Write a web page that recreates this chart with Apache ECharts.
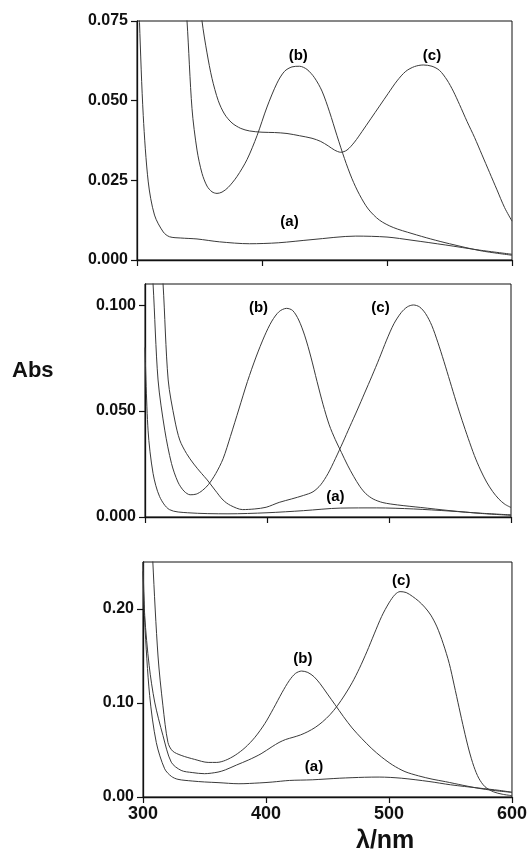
<!DOCTYPE html>
<html>
<head>
<meta charset="utf-8">
<script src="https://cdn.jsdelivr.net/npm/echarts@6/dist/echarts.min.js"></script>
<style>
  html, body { margin: 0; background: #fff; }
  #chart { width: 530px; height: 858px; }
</style>
</head>
<body>
<div id="chart"></div>
<script>
// ---- data (wavelength in nm, absorbance) ----
// top panel
const topAx = [300, 302, 305, 309, 314, 321, 326, 335, 348, 366, 390, 413, 440, 475, 500, 520, 547, 574, 600];
const topAy = [0.10, 0.0745, 0.0453, 0.0245, 0.0141, 0.0088, 0.0073, 0.0069, 0.0066, 0.0057, 0.0051, 0.0054, 0.0064, 0.0075, 0.0072, 0.0062, 0.0047, 0.0031, 0.0018];
const topBx = [330, 336, 340, 344, 348, 352, 356, 360, 364, 368, 373, 380, 388, 396, 404, 412, 418, 424, 430, 436, 442, 448, 454, 460, 466, 472, 478, 485, 494, 505, 520, 535, 550, 575, 600];
const topBy = [0.14, 0.095, 0.075, 0.0475, 0.0345, 0.0272, 0.0232, 0.0214, 0.0209, 0.0213, 0.0228, 0.0262, 0.0315, 0.039, 0.048, 0.0555, 0.0592, 0.0606, 0.0608, 0.0598, 0.0572, 0.053, 0.0465, 0.039, 0.0318, 0.0255, 0.0205, 0.016, 0.0125, 0.0102, 0.0083, 0.0066, 0.0051, 0.0029, 0.0015];
const topCx = [345, 352, 356, 360, 365, 370, 376, 383, 390, 400, 410, 420, 430, 440, 447, 453, 458, 463, 468, 474, 480, 487, 494, 501, 508, 515, 522, 529, 536, 542, 548, 553, 558, 564, 570, 576, 582, 588, 594, 600];
const topCy = [0.10, 0.075, 0.065, 0.057, 0.050, 0.0458, 0.043, 0.0413, 0.0405, 0.0401, 0.040, 0.0397, 0.039, 0.0382, 0.0372, 0.0358, 0.0345, 0.0338, 0.0345, 0.037, 0.0403, 0.0443, 0.0483, 0.0523, 0.0562, 0.0592, 0.0607, 0.0612, 0.0608, 0.0595, 0.0565, 0.053, 0.0488, 0.0435, 0.0385, 0.033, 0.0275, 0.022, 0.0165, 0.0122];

// middle panel
const midAx = [300, 302.5, 306.6, 312, 320, 335, 368, 400, 430, 460, 490, 520, 550, 575, 600];
const midAy = [0.080, 0.041, 0.0206, 0.0096, 0.0035, 0.002, 0.0015, 0.002, 0.003, 0.0042, 0.0043, 0.0038, 0.0028, 0.0018, 0.001];
const midBx = [303, 306.6, 310.7, 316.2, 321.7, 327, 332, 337, 342, 347, 352, 358, 364, 370, 377, 384, 391, 398, 404, 410, 416, 421, 426, 431, 436, 441, 446, 451, 456, 461, 466, 471, 476, 481, 487, 495, 507, 526, 550, 575, 600];
const midBy = [0.14, 0.11, 0.0647, 0.041, 0.0253, 0.0165, 0.0122, 0.0105, 0.0108, 0.0125, 0.0153, 0.0205, 0.0275, 0.038, 0.051, 0.064, 0.0755, 0.0855, 0.0925, 0.097, 0.0985, 0.0975, 0.093, 0.0855, 0.0755, 0.064, 0.053, 0.0435, 0.0365, 0.0305, 0.0245, 0.0192, 0.0145, 0.011, 0.0085, 0.0068, 0.0057, 0.0045, 0.003, 0.0017, 0.0008];
const midCx = [312, 314.8, 319, 324.4, 328.5, 334, 340, 346.3, 351, 357.4, 364, 370, 380, 390, 399.3, 410, 420, 430, 437.7, 444, 450, 456, 462, 468, 474, 480, 486, 492, 498, 504, 510, 515, 520, 525, 530, 535, 540, 545, 550, 555, 560, 565, 570, 575, 580, 585, 590, 595, 600];
const midCy = [0.13, 0.11, 0.0647, 0.0458, 0.0363, 0.030, 0.025, 0.0206, 0.0175, 0.0127, 0.008, 0.0055, 0.0035, 0.0038, 0.0046, 0.0069, 0.0085, 0.0102, 0.0119, 0.0152, 0.0205, 0.0275, 0.035, 0.0428, 0.0505, 0.0585, 0.0665, 0.0748, 0.0835, 0.0912, 0.0965, 0.0992, 0.1001, 0.0992, 0.096, 0.0905, 0.0825, 0.0735, 0.064, 0.0545, 0.0455, 0.037, 0.029, 0.0222, 0.0165, 0.012, 0.0085, 0.006, 0.0045];

// bottom panel
const botAx = [300, 301.4, 305.4, 310.8, 317.6, 323, 328.4, 340, 350, 361, 378, 395, 405, 419, 437.6, 460, 480, 492, 510, 532.5, 550, 573, 590, 600];
const botAy = [0.24, 0.186, 0.108, 0.058, 0.030, 0.022, 0.0188, 0.017, 0.016, 0.0153, 0.0141, 0.015, 0.0159, 0.0176, 0.0183, 0.020, 0.021, 0.0212, 0.020, 0.0165, 0.013, 0.0095, 0.007, 0.005];
const botBx = [306, 308, 312.2, 316.2, 320.3, 324, 331, 342, 353, 360, 367, 375, 383, 391, 399, 406, 413, 419, 424, 429, 434, 439, 444, 450, 456, 463, 470, 478, 486, 494, 503, 513, 524, 535, 546, 560, 575, 590, 600];
const botBy = [0.32, 0.25, 0.150, 0.097, 0.058, 0.049, 0.0443, 0.040, 0.0368, 0.0368, 0.039, 0.0445, 0.0525, 0.0635, 0.078, 0.094, 0.111, 0.124, 0.1315, 0.134, 0.1325, 0.128, 0.1205, 0.1095, 0.0985, 0.0855, 0.0735, 0.062, 0.0515, 0.0425, 0.034, 0.027, 0.0225, 0.019, 0.0163, 0.0125, 0.0088, 0.0062, 0.005];
const botCx = [300, 301.4, 305, 309.5, 316.2, 323, 331, 340, 350, 361, 367, 376, 386, 396, 405, 410.6, 416, 422, 428, 434, 440, 446, 452, 458, 464, 470, 476, 482, 488, 494, 500, 505, 509, 514, 519, 524, 529, 534, 539, 544, 549, 553, 557, 561, 565, 569, 573, 578, 585, 592, 600];
const botCy = [0.25, 0.193, 0.14, 0.101, 0.0655, 0.037, 0.0283, 0.026, 0.0248, 0.0265, 0.0289, 0.034, 0.0395, 0.046, 0.0536, 0.058, 0.0612, 0.0635, 0.066, 0.0695, 0.074, 0.080, 0.0875, 0.097, 0.1085, 0.1215, 0.137, 0.1545, 0.1735, 0.192, 0.2065, 0.2155, 0.2185, 0.2175, 0.2135, 0.2085, 0.202, 0.1935, 0.181, 0.1635, 0.142, 0.119, 0.095, 0.0715, 0.050, 0.0325, 0.020, 0.011, 0.0055, 0.003, 0.0014];

// curve tags and where they sit ([nm, abs])
const tagNames = ['(a)', '(b)', '(c)'];
const topTags = [[422, 0.012], [429, 0.064], [536, 0.064]];
const midTags = [[456, 0.0096], [393, 0.0985], [493, 0.0985]];
const botTags = [[439, 0.032], [430, 0.147], [510, 0.230]];

// axis ranges
const xTicks = [300, 400, 500, 600];
const yMax = [0.075, 0.11, 0.25];
const yStep = [0.025, 0.05, 0.1];
const yDigits = [3, 3, 2];

// ---- chart ----
const font = 'Liberation Sans, Arial, sans-serif';
const ink = '#111';
const lineInk = '#3a3a3a';

const grids = [
  { left: 137, right: 18, top: 21, height: 239 },
  { left: 145, right: 19, top: 284, height: 233 },
  { left: 143, right: 17, top: 562, height: 235 }
];

const pairs = (xs, ys) => xs.map((x, i) => [x, ys[i]]);

const curves = [
  [topAx, topAy, topBx, topBy, topCx, topCy],
  [midAx, midAy, midBx, midBy, midCx, midCy],
  [botAx, botAy, botBx, botBy, botCx, botCy]
];
const tags = [topTags, midTags, botTags];

const series = [];
curves.forEach((c, p) => {
  for (let k = 0; k < 3; k++) {
    series.push({
      name: 'p' + p + tagNames[k],
      type: 'line',
      xAxisIndex: p,
      yAxisIndex: p,
      data: pairs(c[2 * k], c[2 * k + 1]),
      showSymbol: false,
      smooth: 0.3,
      lineStyle: { color: lineInk, width: 1 },
      silent: true
    });
  }
  // the (a) (b) (c) tags, placed in data coordinates
  series.push({
    type: 'scatter',
    xAxisIndex: p,
    yAxisIndex: p,
    symbolSize: 0,
    itemStyle: { opacity: 1 },
    data: tags[p].map((t, i) => ({ value: t, name: tagNames[i] })),
    label: {
      show: true,
      position: 'inside',
      formatter: '{b}',
      color: '#000',
      fontFamily: font,
      fontWeight: 'bold',
      fontSize: 15
    },
    silent: true
  });
});

const option = {
  animation: false,
  backgroundColor: '#fff',
  grid: grids.map(g => Object.assign({ show: true, borderColor: ink, borderWidth: 1, backgroundColor: 'transparent' }, g)),
  xAxis: grids.map((g, p) => ({
    type: 'value',
    gridIndex: p,
    min: xTicks[0],
    max: xTicks[xTicks.length - 1],
    interval: 100,
    axisLine: { show: true, lineStyle: { color: ink, width: 1.3 } },
    axisTick: { show: true, inside: false, length: 6, lineStyle: { color: ink, width: 1.2 } },
    axisLabel: {
      show: p === 2,
      margin: 8,
      color: ink,
      fontFamily: font,
      fontWeight: 'bold',
      fontSize: 18
    },
    splitLine: { show: false }
  })),
  yAxis: grids.map((g, p) => ({
    type: 'value',
    gridIndex: p,
    min: 0,
    max: yMax[p],
    interval: yStep[p],
    axisLine: { show: true, lineStyle: { color: ink, width: 1.3 } },
    axisTick: { show: true, inside: false, length: 6, lineStyle: { color: ink, width: 1.2 } },
    axisLabel: {
      margin: 9,
      showMaxLabel: p === 0,
      color: ink,
      fontFamily: font,
      fontWeight: 'bold',
      fontSize: 16,
      formatter: v => v.toFixed(yDigits[p])
    },
    splitLine: { show: false }
  })),
  graphic: [
    {
      type: 'text',
      left: 12,
      top: 360,
      style: { text: 'Abs', fill: ink, font: 'bold 22px ' + font }
    },
    {
      type: 'text',
      left: 356,
      top: 829,
      style: { text: 'λ/nm', fill: ink, font: 'bold 25px ' + font }
    }
  ],
  series: series
};

const chart = echarts.init(document.getElementById('chart'), null, { renderer: 'canvas' });
chart.setOption(option);
</script>
</body>
</html>
